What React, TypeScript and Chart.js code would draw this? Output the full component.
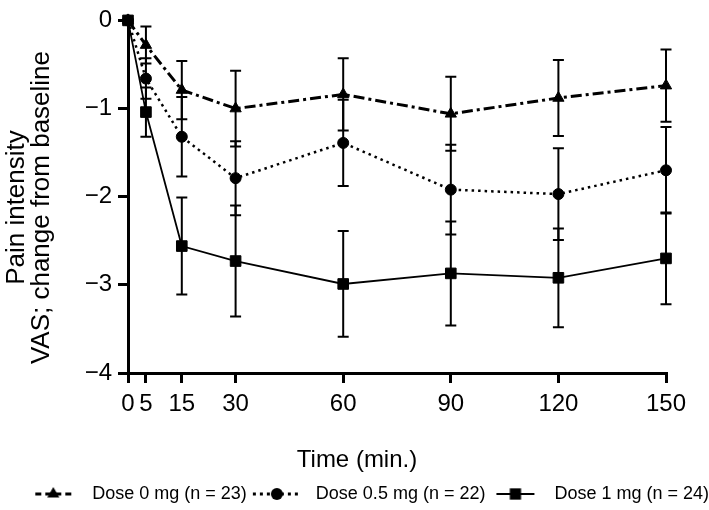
import { useEffect, useRef } from "react";
import { Chart, registerables } from "chart.js";

Chart.register(...registerables);

// ---- Data ----
const timePoints = [0, 5, 15, 30, 60, 90, 120, 150];
const xTickValues = [0, 5, 15, 30, 60, 90, 120, 150];
const yTickValues = [0, -1, -2, -3, -4];

const dose0Mean = [0, -0.28, -0.79, -1.0, -0.84, -1.06, -0.88, -0.74];
const dose0Err = [0, 0.21, 0.33, 0.43, 0.41, 0.42, 0.43, 0.41];

const dose05Mean = [0, -0.66, -1.32, -1.79, -1.39, -1.92, -1.97, -1.7];
const dose05Err = [0, 0.23, 0.45, 0.42, 0.49, 0.51, 0.52, 0.49];

const dose1Mean = [0, -1.04, -2.56, -2.73, -2.99, -2.87, -2.92, -2.7];
const dose1Err = [0, 0.28, 0.55, 0.63, 0.6, 0.59, 0.56, 0.52];

const seriesLabels = ["Dose 0 mg (n = 23)", "Dose 0.5 mg (n = 22)", "Dose 1 mg (n = 24)"];
const yTitleLines = ["Pain intensity\u00a0\u00a0\u00a0", "VAS; change from baseline\u00a0\u00a0\u00a0"];
const xTitle = "Time (min.)" + "\u00a0".repeat(12);

const FONT = "'Liberation Sans', Arial, Helvetica, sans-serif";

type SymbolKind = "triangle" | "circle" | "rect";

function drawMarker(ctx: CanvasRenderingContext2D, kind: SymbolKind, x: number, y: number, r: number) {
  ctx.beginPath();
  if (kind === "circle") {
    ctx.arc(x, y, r, 0, Math.PI * 2);
  } else if (kind === "rect") {
    const s = r * Math.SQRT1_2;
    ctx.rect(x - s, y - s, 2 * s, 2 * s);
  } else {
    ctx.moveTo(x, y - r);
    ctx.lineTo(x + 0.866 * r, y + 0.5 * r);
    ctx.lineTo(x - 0.866 * r, y + 0.5 * r);
    ctx.closePath();
  }
  ctx.fill();
}

function makeSymbol(kind: SymbolKind, dash: number[], lw: number, half: number, r: number) {
  const c = document.createElement("canvas");
  c.width = 60;
  c.height = 20;
  const ctx = c.getContext("2d")!;
  ctx.strokeStyle = "#000";
  ctx.fillStyle = "#000";
  ctx.lineWidth = lw;
  ctx.setLineDash(dash);
  ctx.beginPath();
  ctx.moveTo(30 - half, 10);
  ctx.lineTo(30 + half, 10);
  ctx.stroke();
  ctx.setLineDash([]);
  drawMarker(ctx, kind, 30, 10, r);
  return c;
}

const errorBarPlugin = {
  id: "errorBars",
  beforeDatasetsDraw(chart: any) {
    const ctx = chart.ctx;
    const yScale = chart.scales.y;
    chart.data.datasets.forEach((ds: any, i: number) => {
      const errs: number[] = ds.errors;
      if (!errs) return;
      const meta = chart.getDatasetMeta(i);
      ctx.save();
      ctx.strokeStyle = "#000";
      ctx.lineWidth = 2;
      ctx.setLineDash([]);
      meta.data.forEach((pt: any, j: number) => {
        const e = errs[j];
        if (!e) return;
        const v = ds.data[j].y;
        const top = yScale.getPixelForValue(v + e);
        const bot = yScale.getPixelForValue(v - e);
        const cap = 5.5;
        ctx.beginPath();
        ctx.moveTo(pt.x, top);
        ctx.lineTo(pt.x, bot);
        ctx.moveTo(pt.x - cap, top);
        ctx.lineTo(pt.x + cap, top);
        ctx.moveTo(pt.x - cap, bot);
        ctx.lineTo(pt.x + cap, bot);
        ctx.stroke();
      });
      ctx.restore();
    });
  },
};

export default function App() {
  const canvasRef = useRef<HTMLCanvasElement | null>(null);

  useEffect(() => {
    const canvas = canvasRef.current;
    if (!canvas) return;
    Chart.defaults.color = "#000";
    Chart.defaults.font.family = FONT;

    const toPts = (vals: number[]) => timePoints.map((t, i) => ({ x: t, y: vals[i] }));

    const symbols = [
      makeSymbol("triangle", [6, 4], 3, 18, 7),
      makeSymbol("circle", [3, 4], 3, 24, 6),
      makeSymbol("rect", [], 2, 19, 8),
    ];

    const chart = new Chart(canvas, {
      type: "line",
      data: {
        datasets: [
          {
            label: seriesLabels[0],
            data: toPts(dose0Mean),
            errors: dose0Err,
            borderColor: "#000",
            backgroundColor: "#000",
            borderWidth: 3,
            borderDash: [11, 4, 3, 4],
            pointStyle: "triangle",
            pointRadius: 6.5,
            pointBorderWidth: 1,
            pointBackgroundColor: "#000",
            pointBorderColor: "#000",
            clip: false,
          } as any,
          {
            label: seriesLabels[1],
            data: toPts(dose05Mean),
            errors: dose05Err,
            borderColor: "#000",
            backgroundColor: "#000",
            borderWidth: 2.5,
            borderDash: [2.5, 4],
            pointStyle: "circle",
            pointRadius: 5.5,
            pointBorderWidth: 1,
            pointBackgroundColor: "#000",
            pointBorderColor: "#000",
            clip: false,
          } as any,
          {
            label: seriesLabels[2],
            data: toPts(dose1Mean),
            errors: dose1Err,
            borderColor: "#000",
            backgroundColor: "#000",
            borderWidth: 1.8,
            pointStyle: "rect",
            pointRadius: 7.5,
            pointBorderWidth: 1,
            pointBackgroundColor: "#000",
            pointBorderColor: "#000",
            clip: false,
          } as any,
        ],
      },
      options: {
        responsive: false,
        animation: false,
        events: [],
        layout: { padding: { top: 15, left: 0, right: 0, bottom: 0 } },
        scales: {
          x: {
            type: "linear",
            min: 0,
            max: 150,
            afterBuildTicks: (scale: any) => {
              scale.ticks = xTickValues.map((v) => ({ value: v }));
            },
            afterFit: (scale: any) => {
              scale.height = 112;
            },
            ticks: {
              autoSkip: false,
              maxRotation: 0,
              minRotation: 0,
              padding: 7,
              font: { size: 24, family: FONT },
              color: "#000",
            },
            grid: {
              display: true,
              drawOnChartArea: false,
              drawTicks: true,
              tickLength: 10,
              lineWidth: 3,
              color: "#000",
            },
            border: { display: true, width: 3, color: "#000" },
            title: {
              display: true,
              text: xTitle,
              font: { size: 24, family: FONT },
              color: "#000",
              padding: { top: 0, bottom: 10 },
            },
          },
          y: {
            type: "linear",
            min: -4,
            max: 0,
            afterBuildTicks: (scale: any) => {
              scale.ticks = yTickValues.map((v) => ({ value: v }));
            },
            afterFit: (scale: any) => {
              scale.width = 128;
            },
            ticks: {
              padding: 6,
              font: { size: 24, family: FONT },
              color: "#000",
              callback: (v: any) => (Number(v) === 0 ? "0" : "\u2212" + Math.abs(Number(v))),
            },
            grid: {
              display: true,
              drawOnChartArea: false,
              drawTicks: true,
              tickLength: 10,
              lineWidth: 3,
              color: "#000",
            },
            border: { display: true, width: 3, color: "#000" },
            title: {
              display: true,
              text: yTitleLines,
              font: { size: 26, family: FONT, lineHeight: "25px" },
              color: "#000",
              padding: { top: 4.5, bottom: 0 },
            },
          },
          yRight: {
            type: "linear",
            position: "right",
            display: true,
            grid: { display: false },
            border: { display: false },
            ticks: { display: false },
            afterFit: (scale: any) => {
              scale.width = 43;
            },
          },
        },
        plugins: {
          tooltip: { enabled: false },
          legend: {
            display: true,
            position: "bottom",
            align: "end",
            maxHeight: 25,
            labels: {
              usePointStyle: true,
              pointStyleWidth: 60,
              padding: 0,
              color: "#000",
              font: { size: 18, family: FONT },
              generateLabels: () =>
                seriesLabels.map((t, i) => ({
                  text: t,
                  pointStyle: symbols[i] as any,
                  fillStyle: "#000",
                  strokeStyle: "#000",
                  lineWidth: 0,
                  hidden: false,
                  datasetIndex: i,
                  fontColor: "#000",
                })),
            },
          } as any,
        },
      } as any,
      plugins: [errorBarPlugin],
    });

    return () => chart.destroy();
  }, []);

  return (
    <div style={{ position: "fixed", left: 0, top: 0, width: 709, height: 510, background: "#fff" }}>
      <canvas ref={canvasRef} width={709} height={510} style={{ width: 709, height: 510, display: "block" }} />
    </div>
  );
}
